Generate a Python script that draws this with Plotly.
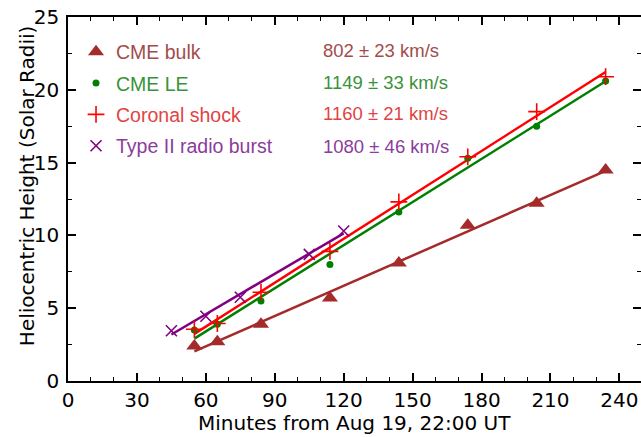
import numpy as np
import plotly.graph_objects as go

# ---- data ----
bulk_t = [55, 65, 84, 114, 144, 174, 204, 234]
bulk_h = [2.4, 2.7, 3.9, 5.7, 8.1, 10.7, 12.2, 14.5]

le_t = [55, 65, 84, 114, 144, 174, 204, 234]
le_h = [3.5, 3.9, 5.5, 8.0, 11.6, 15.3, 17.5, 20.6]

shock_t = [55, 65, 84, 114, 144, 174, 204, 234]
shock_h = [3.55, 3.95, 6.1, 8.9, 12.3, 15.4, 18.5, 20.9]

radio_t = [45, 60, 75, 105, 120]
radio_h = [3.45, 4.45, 5.75, 8.7, 10.3]

series_names = ["CME bulk", "CME LE", "Coronal shock", "Type II radio burst"]
speed_labels = ["802 ± 23 km/s", "1149 ± 33 km/s", "1160 ± 21 km/s", "1080 ± 46 km/s"]

x_ticks = [0, 30, 60, 90, 120, 150, 180, 210, 240]
y_ticks = [0, 5, 10, 15, 20, 25]

x_title = "Minutes from Aug 19, 22:00 UT"
y_title = "Heliocentric Height (Solar Radii)"

# ---- styles ----
mark_cols = ["#a52a2a", "#008000", "#ff0000", "#800080"]
text_cols = ["#a24c4c", "#3a923a", "#e04444", "#8c3c9c"]
symbols = ["triangle-up", "circle", "cross-thin-open", "x-thin-open"]
sizes = [14, 7, 12, 11]

data = [(bulk_t, bulk_h), (le_t, le_h), (shock_t, shock_h), (radio_t, radio_h)]

fig = go.Figure()

# fit lines
for (t, h), c in zip(data, mark_cols):
    t = np.array(t, float)
    h = np.array(h, float)
    p = np.polyfit(t, h, 1)
    tx = np.array([t.min(), t.max()])
    fig.add_trace(go.Scatter(x=tx, y=np.polyval(p, tx), mode="lines",
                             line=dict(color=c, width=2.5), showlegend=False,
                             hoverinfo="skip"))

# markers (with legend)
for i, ((t, h), c) in enumerate(zip(data, mark_cols)):
    fig.add_trace(go.Scatter(
        x=t, y=h, mode="markers",
        name=f"<span style='color:{text_cols[i]}'>{series_names[i]}</span>",
        legendgroup=f"g{i}",
        marker=dict(symbol=symbols[i], size=sizes[i], color=c,
                    line=dict(color=c, width=1.6 if i >= 2 else 0)),
    ))

# speed annotations
ys = [0.909, 0.821, 0.736, 0.6456]
for i in range(4):
    fig.add_annotation(xref="paper", yref="paper", x=0.441, y=ys[i],
                       xanchor="left", yanchor="middle", showarrow=False,
                       text=speed_labels[i],
                       font=dict(family="Liberation Sans, Arial, sans-serif",
                                 size=18.5, color=text_cols[i]))

axis_font = dict(family="DejaVu Sans, sans-serif", size=20, color="black")

# axis titles as annotations
fig.add_annotation(xref="paper", yref="paper", x=0.5, y=-0.1154,
                   xanchor="center", yanchor="middle", showarrow=False,
                   text=x_title, font=axis_font)
fig.add_annotation(xref="paper", yref="paper", x=-0.0716, y=0.538,
                   xanchor="center", yanchor="middle", showarrow=False,
                   text=y_title, textangle=-90, font=axis_font)

fig.update_layout(
    width=641, height=437,
    margin=dict(l=68, r=0, t=17, b=56),
    paper_bgcolor="white", plot_bgcolor="white",
    showlegend=True,
    legend=dict(x=0.014, y=0.9575, xanchor="left", yanchor="top",
                bgcolor="rgba(0,0,0,0)", tracegroupgap=3,
                font=dict(family="Liberation Sans, Arial, sans-serif", size=19.5)),
    xaxis=dict(range=[0, 249.4], tickvals=x_ticks, ticks="inside", ticklen=8,
               tickwidth=1.5, tickcolor="black", showline=True, linecolor="black",
               linewidth=1.5, mirror="ticks", showgrid=False, zeroline=False,
               tickfont=axis_font, automargin=False,
               minor=dict(dtick=10, ticks="inside", ticklen=4, tickcolor="black", tickwidth=1)),
    yaxis=dict(range=[0, 25], tickvals=y_ticks, ticks="inside", ticklen=8,
               tickwidth=1.5, tickcolor="black", showline=True, linecolor="black",
               linewidth=1.5, mirror="ticks", showgrid=False, zeroline=False,
               tickfont=axis_font, ticklabelstandoff=3, automargin=False,
               minor=dict(dtick=2.5, ticks="inside", ticklen=4, tickcolor="black", tickwidth=1)),
)

fig.write_html("out.html", config={"displayModeBar": False},
               post_script="document.body.style.margin='0px';")
